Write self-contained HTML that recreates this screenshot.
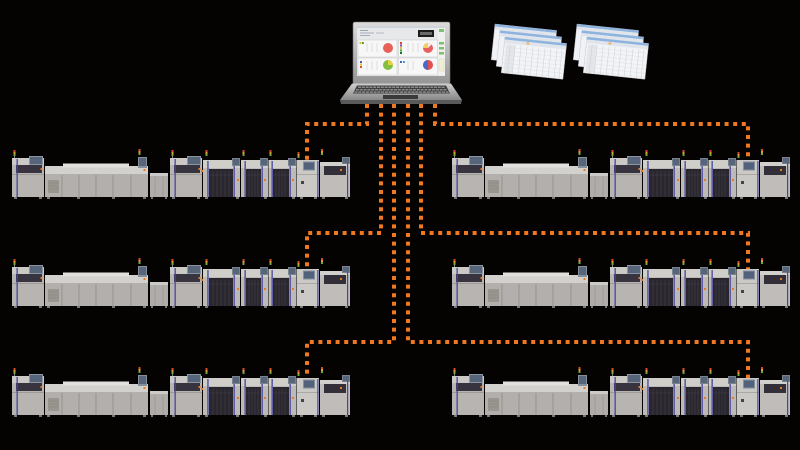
<!DOCTYPE html>
<html>
<head>
<meta charset="utf-8">
<style>
html,body{margin:0;padding:0;background:#050202;}
svg{display:block;}
</style>
</head>
<body>
<svg width="800" height="450" viewBox="0 0 800 450" xmlns="http://www.w3.org/2000/svg">
<defs>
  <linearGradient id="lidg" x1="0" y1="0" x2="0" y2="1">
    <stop offset="0" stop-color="#dcdcdc"/>
    <stop offset="1" stop-color="#949494"/>
  </linearGradient>
  <linearGradient id="baseg" x1="0" y1="0" x2="0" y2="1">
    <stop offset="0" stop-color="#cfcfcf"/>
    <stop offset="1" stop-color="#888888"/>
  </linearGradient>

  <g id="P">
    <rect x="13.5" y="150" width="2" height="2" fill="#d84a30"/>
    <rect x="13.5" y="152" width="2" height="2" fill="#e0a030"/>
    <rect x="13.5" y="154" width="2" height="2" fill="#70a848"/>
    <rect x="14" y="156" width="1" height="3" fill="#888"/>
    <rect x="12" y="158" width="32" height="39" fill="#b7b4b1"/>
    <rect x="12" y="158" width="32" height="7" fill="#cbc9c5"/>
    <rect x="16" y="165" width="26" height="8" fill="#37333f"/>
    <rect x="12" y="174" width="32" height="1" fill="#9d9a97"/>
    <rect x="16.5" y="159" width="1.3" height="38" fill="#4646a0"/>
    <rect x="29" y="156" width="14" height="9" fill="#8a95a1"/>
    <rect x="30" y="157" width="12" height="7" fill="#56657a"/>
    <rect x="40.5" y="168" width="2" height="2" fill="#e87a20"/>
    <rect x="14" y="197" width="3" height="2" fill="#7a7876"/>
    <rect x="39" y="197" width="3" height="2" fill="#7a7876"/>
  </g>

  <g id="L">
    <use href="#P"/>
    <rect x="45" y="166" width="103" height="31" fill="#b2afac"/>
    <rect x="45" y="166" width="103" height="8" fill="#d3d1cd"/>
    <rect x="63" y="163.5" width="66" height="4" fill="#e2e0dc"/>
    <path d="M62 175V197M79 175V197M96 175V197M113 175V197M131 175V197" stroke="#8f8c89" stroke-width="0.8"/>
    <rect x="48" y="180" width="11" height="13" fill="#99968f"/>
    <path d="M48 183H59M48 186H59M48 189H59" stroke="#86837f" stroke-width="0.5"/>
    <rect x="138.5" y="149" width="2" height="2" fill="#d84a30"/>
    <rect x="138.5" y="151" width="2" height="2" fill="#e0a030"/>
    <rect x="138.5" y="153" width="2" height="2" fill="#70a848"/>
    <rect x="138" y="157" width="9" height="11" fill="#848f9b"/>
    <rect x="139" y="158" width="7" height="8" fill="#56657a"/>
    <rect x="143.5" y="169" width="2" height="2" fill="#e87a20"/>
    <rect x="47" y="197" width="3" height="2" fill="#7a7876"/>
    <rect x="77" y="197" width="3" height="2" fill="#7a7876"/>
    <rect x="112" y="197" width="3" height="2" fill="#7a7876"/>
    <rect x="143" y="197" width="3" height="2" fill="#7a7876"/>
    <rect x="150" y="173" width="18" height="24" fill="#afaca9"/>
    <rect x="150" y="173" width="18" height="3" fill="#cccac6"/>
    <path d="M155 177V197M163 177V197" stroke="#969390" stroke-width="0.6"/>
    <rect x="151" y="197" width="2" height="2" fill="#7a7876"/>
    <rect x="165" y="197" width="2" height="2" fill="#7a7876"/>
    <use href="#P" transform="translate(158,0)"/>

    <rect x="205.5" y="150" width="2" height="2" fill="#d84a30"/>
    <rect x="205.5" y="152" width="2" height="2" fill="#e0a030"/>
    <rect x="205.5" y="154" width="2" height="2" fill="#70a848"/>
    <rect x="203" y="160" width="37" height="37" fill="#bcb9b6"/>
    <rect x="203" y="160" width="37" height="8" fill="#d0cec9"/>
    <rect x="209" y="169" width="24" height="28" fill="#29262e"/>
    <path d="M213 171V197M217 171V197M221 171V197M225 171V197M229 171V197M209 175H233" stroke="#44414a" stroke-width="0.6"/>
    <rect x="207.3" y="161" width="1.3" height="36" fill="#4646a0"/>
    <rect x="233.5" y="161" width="1.3" height="36" fill="#4646a0"/>
    <rect x="232" y="158" width="8" height="8" fill="#77828e"/>
    <rect x="233" y="159" width="6" height="6" fill="#56657a"/>
    <rect x="237" y="179" width="2" height="2" fill="#e87a20"/>
    <rect x="201" y="170" width="2" height="2" fill="#e87a20"/>

    <rect x="242.5" y="150" width="2" height="2" fill="#d84a30"/>
    <rect x="242.5" y="152" width="2" height="2" fill="#e0a030"/>
    <rect x="242.5" y="154" width="2" height="2" fill="#70a848"/>
    <rect x="241" y="160" width="27" height="37" fill="#bcb9b6"/>
    <rect x="241" y="160" width="27" height="8" fill="#d0cec9"/>
    <rect x="246" y="169" width="15" height="28" fill="#29262e"/>
    <path d="M249 171V197M252 171V197M255 171V197M258 171V197M246 175H261" stroke="#44414a" stroke-width="0.6"/>
    <rect x="244.5" y="161" width="1.3" height="36" fill="#4646a0"/>
    <rect x="261.5" y="161" width="1.3" height="36" fill="#4646a0"/>
    <rect x="260" y="158" width="8" height="8" fill="#77828e"/>
    <rect x="261" y="159" width="6" height="6" fill="#56657a"/>
    <rect x="264" y="179" width="2" height="2" fill="#e87a20"/>

    <rect x="269.5" y="150" width="2" height="2" fill="#d84a30"/>
    <rect x="269.5" y="152" width="2" height="2" fill="#e0a030"/>
    <rect x="269.5" y="154" width="2" height="2" fill="#70a848"/>
    <rect x="268.5" y="160" width="28" height="37" fill="#bcb9b6"/>
    <rect x="268.5" y="160" width="28" height="8" fill="#d0cec9"/>
    <rect x="273" y="169" width="16" height="28" fill="#29262e"/>
    <path d="M276 171V197M279 171V197M282 171V197M285 171V197M273 175H289" stroke="#44414a" stroke-width="0.6"/>
    <rect x="271.5" y="161" width="1.3" height="36" fill="#4646a0"/>
    <rect x="289.5" y="161" width="1.3" height="36" fill="#4646a0"/>
    <rect x="288" y="158" width="8" height="8" fill="#77828e"/>
    <rect x="289" y="159" width="6" height="6" fill="#56657a"/>
    <rect x="292" y="179" width="2" height="2" fill="#e87a20"/>

    <rect x="297.5" y="152" width="2" height="2" fill="#d84a30"/>
    <rect x="297.5" y="154" width="2" height="2" fill="#e0a030"/>
    <rect x="297.5" y="156" width="2" height="2" fill="#70a848"/>
    <rect x="297" y="160" width="22" height="37" fill="#cbc9c6"/>
    <rect x="303" y="161.5" width="12" height="9" fill="#85909d"/>
    <rect x="304" y="162.5" width="10" height="7" fill="#52627a"/>
    <rect x="297" y="174" width="22" height="0.8" fill="#a3a09d"/>
    <rect x="301" y="181" width="3" height="3" fill="#444"/>
    <rect x="317.3" y="161" width="1.2" height="36" fill="#4646a0"/>

    <rect x="321" y="149" width="2" height="2" fill="#d84a30"/>
    <rect x="321" y="151" width="2" height="2" fill="#e0a030"/>
    <rect x="321" y="153" width="2" height="2" fill="#70a848"/>
    <rect x="320" y="162" width="30" height="35" fill="#bfbcb9"/>
    <rect x="320" y="162" width="30" height="4" fill="#d2d0cc"/>
    <rect x="324" y="166" width="22" height="9" fill="#332f38"/>
    <rect x="342" y="157" width="8" height="7" fill="#77828e"/>
    <rect x="343" y="158" width="6" height="5" fill="#56657a"/>
    <rect x="347" y="163" width="1.2" height="34" fill="#4646a0"/>
    <rect x="340" y="169" width="2" height="2" fill="#e87a20"/>
    <rect x="300" y="197" width="3" height="2" fill="#7a7876"/>
    <rect x="314" y="197" width="3" height="2" fill="#7a7876"/>
    <rect x="322" y="197" width="3" height="2" fill="#7a7876"/>
    <rect x="345" y="197" width="3" height="2" fill="#7a7876"/>
    <rect x="205" y="197" width="3" height="2" fill="#7a7876"/>
    <rect x="236" y="197" width="3" height="2" fill="#7a7876"/>
    <rect x="264" y="197" width="3" height="2" fill="#7a7876"/>
    <rect x="292" y="197" width="3" height="2" fill="#7a7876"/>
  </g>

  <g id="S">
    <g transform="translate(495,24) rotate(6)">
      <rect width="62" height="36" fill="#f0f2f5" stroke="#b8bcc4" stroke-width="0.4"/>
      <rect width="62" height="2.5" fill="#8db4e0"/>
      <rect y="2.5" width="62" height="3" fill="#e0e5ec"/>
      <path d="M8 6V36M14 6V36M20 6V36M26 6V36M32 6V36M38 6V36M44 6V36M50 6V36M56 6V36" stroke="#cdd0d6" stroke-width="0.4"/>
    </g>
    <g transform="translate(500,30.5) rotate(6)">
      <rect width="62" height="36" fill="#f0f2f5" stroke="#b8bcc4" stroke-width="0.4"/>
      <rect width="62" height="2.5" fill="#8db4e0"/>
      <rect y="2.5" width="62" height="3" fill="#e0e5ec"/>
      <path d="M8 6V36M14 6V36M20 6V36M26 6V36M32 6V36M38 6V36M44 6V36M50 6V36M56 6V36" stroke="#cdd0d6" stroke-width="0.4"/>
    </g>
    <g transform="translate(505,37) rotate(6)">
      <rect width="62" height="36" fill="#f3f4f7" stroke="#b8bcc4" stroke-width="0.4"/>
      <rect width="62" height="2.5" fill="#8db4e0"/>
      <rect y="2.5" width="62" height="3.5" fill="#e0e5ec"/>
      <rect x="22" y="3" width="3" height="2" fill="#f0b060"/>
      <rect x="2" y="7" width="9" height="29" fill="#e4e6ea"/>
      <path d="M6 7V36M11 7V36M17 7V36M23 7V36M29 7V36M35 7V36M41 7V36M47 7V36M53 7V36M58 7V36" stroke="#c9ccd2" stroke-width="0.5"/>
      <path d="M0 10H62M0 14H62M0 18H62M0 22H62M0 26H62M0 30H62M0 34H62" stroke="#dcdee2" stroke-width="0.4"/>
    </g>
  </g>
</defs>

<rect width="800" height="450" fill="#050202"/>

<g fill="none" stroke="#f07820" stroke-width="4" stroke-dasharray="4 4.6">
  <path d="M367,104 V124 H307 V162"/>
  <path d="M381,104 V233 H307 V271"/>
  <path d="M394,104 V342 H307 V380"/>
  <path d="M408,104 V342 H748 V380"/>
  <path d="M421,104 V233 H748 V271"/>
  <path d="M435,104 V124 H748 V162"/>
</g>

<use href="#L"/>
<use href="#L" transform="translate(440,0)"/>
<use href="#L" transform="translate(0,109)"/>
<use href="#L" transform="translate(440,109)"/>
<use href="#L" transform="translate(0,218)"/>
<use href="#L" transform="translate(440,218)"/>

<rect x="353" y="22" width="97" height="62" rx="2" fill="url(#lidg)" stroke="#6e6e6e" stroke-width="0.6"/>
<rect x="357" y="26" width="88" height="50" fill="#e6e8ea"/>
<rect x="357" y="26" width="88" height="2" fill="#cfd4da"/>
<rect x="360" y="30" width="8" height="1" fill="#9aa"/>
<rect x="360" y="32.5" width="14" height="1" fill="#aab"/>
<rect x="360" y="35" width="10" height="1" fill="#aab"/>
<rect x="376" y="32.5" width="8" height="1" fill="#bbc"/>
<rect x="418" y="30" width="16" height="7" fill="#1c1c1c"/>
<rect x="420" y="32" width="12" height="3" fill="#6a6a6a"/>
<rect x="438" y="28" width="7" height="47" fill="#f0f0ee"/>
<rect x="439" y="29" width="5" height="3" fill="#7cc070"/>
<rect x="439" y="42" width="5" height="2.5" fill="#7cc070"/>
<rect x="439" y="47" width="5" height="2.5" fill="#7cc070"/>
<rect x="439" y="52" width="5" height="2.5" fill="#7cc070"/>
<rect x="439" y="59" width="5" height="12" fill="#eeeed0" stroke="#c8c8b0" stroke-width="0.3"/>
<rect x="358" y="40" width="39" height="17" fill="#f7f7f7" stroke="#c4c4c4" stroke-width="0.4"/>
<rect x="398.5" y="40" width="39" height="17" fill="#f7f7f7" stroke="#c4c4c4" stroke-width="0.4"/>
<rect x="358" y="58" width="39" height="17" fill="#f7f7f7" stroke="#c4c4c4" stroke-width="0.4"/>
<rect x="398.5" y="58" width="39" height="17" fill="#f7f7f7" stroke="#c4c4c4" stroke-width="0.4"/>
<rect x="359.5" y="42" width="2" height="2" fill="#e0c030"/>
<rect x="362" y="42" width="2" height="2" fill="#60a040"/>
<path d="M367 43V52M372 43V52M377 43V52M367 61V70M372 61V70M377 61V70M408 43V52M413 43V52M418 43V52M408 61V70M413 61V70" stroke="#ccc" stroke-width="0.6"/>
<rect x="360" y="61" width="2" height="2" fill="#4060c0"/>
<rect x="360" y="63.5" width="2" height="2" fill="#e0c030"/>
<rect x="360" y="66" width="2" height="2" fill="#e05040"/>
<rect x="400" y="42" width="2" height="2" fill="#e04040"/>
<rect x="400" y="44.5" width="2" height="2" fill="#8040a0"/>
<rect x="400" y="47" width="2" height="2" fill="#e0c030"/>
<rect x="400" y="49.5" width="2" height="2" fill="#40a040"/>
<rect x="400" y="52" width="2" height="2" fill="#207030"/>
<rect x="400" y="61" width="2" height="2" fill="#4060c0"/>
<rect x="403" y="61" width="2" height="2" fill="#40a0c0"/>
<circle cx="388" cy="48" r="5" fill="#e8605a"/>
<circle cx="428" cy="48" r="5" fill="#e86060"/>
<path d="M428,48 L423,48 A5,5 0 0,1 428,43 Z" fill="#f0d060"/>
<path d="M428,48 L428,43 A5,5 0 0,1 431.5,44.5 Z" fill="#f4f0e8"/>
<circle cx="388" cy="65" r="5" fill="#80c040"/>
<path d="M388,65 L388,60 A5,5 0 0,1 393,65 Z" fill="#e8d040"/>
<circle cx="428" cy="65" r="5" fill="#e05050"/>
<path d="M428,60 A5,5 0 0,0 428,70 Z" fill="#4a68c8"/>
<polygon points="352,83.5 451,83.5 462,100 340,100" fill="url(#baseg)"/>
<polygon points="340,100 462,100 461,104 341,104" fill="#5a5a5a"/>
<polygon points="357,85.5 446,85.5 450,93.5 353,93.5" fill="#3e3e3e"/>
<path d="M358,87.2H445 M356,89.7H447 M354.5,92.1H448.5" stroke="#8a8a8a" stroke-width="1.5" stroke-dasharray="3 0.8"/>
<rect x="383" y="95" width="35" height="4" fill="#3a3a3a"/>

<use href="#S"/>
<use href="#S" transform="translate(82,0)"/>
</svg>
</body>
</html>
